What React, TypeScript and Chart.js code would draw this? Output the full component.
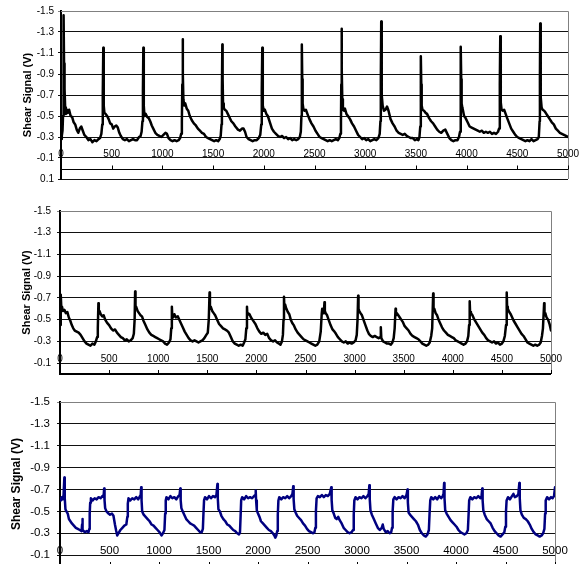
import React, { useEffect, useRef } from "react";
import { Chart, registerables } from "chart.js";

Chart.register(...registerables);

const yAxisTitle = "Shear Signal (V)";
const xTickValues = [0, 500, 1000, 1500, 2000, 2500, 3000, 3500, 4000, 4500, 5000];
const yTicksTop = [-1.5, -1.3, -1.1, -0.9, -0.7, -0.5, -0.3, -0.1, 0.1];
const yTicksLower = [-1.5, -1.3, -1.1, -0.9, -0.7, -0.5, -0.3, -0.1];

// Panel 1 (top): sharp spikes
const shearTrace1: [number, number][] = [
  [0,-0.28],[8,-0.31],[15,-0.36],[20,-0.5],[24,-0.9],[27,-1.46],[30,-1.0],[33,-0.72],[37,-0.76],[41,-0.58],[48,-0.52],[58,-0.56],[68,-0.53],[80,-0.56],[95,-0.5],[110,-0.49],[125,-0.44],[140,-0.42],[155,-0.37],[170,-0.34],[185,-0.38],[200,-0.40],[215,-0.36],[230,-0.32],[250,-0.30],[270,-0.27],[290,-0.28],[310,-0.25],[330,-0.27],[350,-0.26],[370,-0.28],[385,-0.29],[398,-0.33],[407,-0.42],[412,-0.7],[417,-1.15],
  [420,-0.85],[423,-0.6],[428,-0.53],[440,-0.52],[455,-0.5],[470,-0.47],[485,-0.43],[500,-0.42],[515,-0.38],[530,-0.40],[545,-0.41],[560,-0.39],[575,-0.34],[590,-0.31],[610,-0.28],[630,-0.27],[650,-0.28],[670,-0.26],[690,-0.27],[710,-0.28],[730,-0.27],[750,-0.27],[770,-0.3],[785,-0.31],[795,-0.35],[803,-0.45],[808,-0.75],[812,-1.15],
  [815,-0.82],[818,-0.6],[823,-0.5],[835,-0.52],[850,-0.49],[865,-0.48],[880,-0.45],[895,-0.41],[910,-0.38],[930,-0.34],[950,-0.32],[970,-0.31],[990,-0.3],[1010,-0.32],[1030,-0.34],[1045,-0.33],[1060,-0.29],[1080,-0.27],[1100,-0.26],[1120,-0.27],[1140,-0.26],[1160,-0.27],[1175,-0.29],[1185,-0.33],[1192,-0.45],[1196,-0.8],[1200,-1.23],
  [1203,-0.9],[1207,-0.66],[1215,-0.6],[1225,-0.62],[1240,-0.57],[1255,-0.55],[1270,-0.5],[1290,-0.46],[1310,-0.43],[1330,-0.41],[1350,-0.38],[1370,-0.36],[1390,-0.34],[1410,-0.33],[1430,-0.3],[1450,-0.29],[1470,-0.28],[1490,-0.27],[1510,-0.26],[1530,-0.27],[1550,-0.26],[1565,-0.28],[1575,-0.31],[1583,-0.42],[1587,-0.75],[1591,-1.18],
  [1594,-0.85],[1598,-0.62],[1605,-0.58],[1615,-0.56],[1630,-0.55],[1645,-0.52],[1660,-0.49],[1680,-0.45],[1700,-0.43],[1720,-0.4],[1745,-0.37],[1765,-0.36],[1785,-0.38],[1800,-0.38],[1815,-0.35],[1830,-0.3],[1850,-0.28],[1870,-0.27],[1890,-0.26],[1910,-0.27],[1930,-0.27],[1950,-0.29],[1965,-0.32],[1975,-0.42],[1980,-0.75],[1985,-1.15],
  [1988,-0.82],[1992,-0.6],[2000,-0.55],[2010,-0.56],[2025,-0.52],[2040,-0.5],[2060,-0.44],[2080,-0.38],[2100,-0.35],[2120,-0.33],[2140,-0.31],[2160,-0.3],[2180,-0.31],[2200,-0.29],[2220,-0.3],[2240,-0.28],[2260,-0.29],[2280,-0.27],[2300,-0.28],[2320,-0.27],[2340,-0.28],[2355,-0.3],[2365,-0.35],[2371,-0.5],[2374,-0.8],[2376,-1.18],
  [2379,-0.85],[2383,-0.62],[2390,-0.57],[2400,-0.55],[2415,-0.56],[2430,-0.52],[2450,-0.47],[2470,-0.43],[2490,-0.4],[2510,-0.36],[2530,-0.33],[2550,-0.3],[2570,-0.29],[2590,-0.28],[2610,-0.27],[2630,-0.26],[2650,-0.27],[2670,-0.26],[2690,-0.27],[2710,-0.28],[2730,-0.27],[2745,-0.29],[2755,-0.33],[2761,-0.45],[2764,-0.8],[2767,-1.33],
  [2770,-0.95],[2774,-0.66],[2780,-0.56],[2790,-0.55],[2800,-0.57],[2815,-0.52],[2830,-0.5],[2850,-0.47],[2870,-0.43],[2890,-0.4],[2910,-0.36],[2930,-0.32],[2950,-0.3],[2970,-0.28],[2990,-0.29],[3010,-0.27],[3030,-0.28],[3050,-0.26],[3070,-0.27],[3090,-0.28],[3110,-0.27],[3130,-0.29],[3143,-0.33],[3150,-0.45],[3154,-0.85],[3158,-1.40],
  [3161,-1.0],[3165,-0.7],[3172,-0.6],[3185,-0.55],[3200,-0.56],[3215,-0.59],[3230,-0.55],[3250,-0.47],[3270,-0.43],[3290,-0.4],[3310,-0.36],[3330,-0.34],[3350,-0.33],[3370,-0.32],[3390,-0.33],[3410,-0.31],[3430,-0.3],[3450,-0.29],[3470,-0.29],[3490,-0.27],[3510,-0.28],[3525,-0.27],[3535,-0.3],[3543,-0.4],[3547,-0.7],[3550,-1.07],
  [3553,-0.8],[3557,-0.6],[3565,-0.56],[3580,-0.55],[3595,-0.53],[3610,-0.52],[3630,-0.48],[3650,-0.45],[3670,-0.43],[3690,-0.4],[3710,-0.37],[3730,-0.35],[3750,-0.34],[3770,-0.36],[3790,-0.37],[3810,-0.33],[3830,-0.29],[3850,-0.27],[3870,-0.26],[3890,-0.27],[3910,-0.27],[3925,-0.3],[3935,-0.35],[3940,-0.55],[3944,-1.16],
  [3947,-0.85],[3951,-0.62],[3958,-0.58],[3965,-0.55],[3975,-0.5],[3990,-0.48],[4010,-0.44],[4030,-0.4],[4050,-0.39],[4070,-0.38],[4090,-0.37],[4110,-0.36],[4130,-0.35],[4150,-0.36],[4170,-0.34],[4190,-0.35],[4210,-0.34],[4230,-0.35],[4250,-0.33],[4270,-0.34],[4290,-0.33],[4310,-0.35],[4320,-0.38],[4326,-0.5],[4329,-0.8],[4332,-1.26],
  [4335,-0.9],[4339,-0.63],[4345,-0.56],[4355,-0.55],[4370,-0.56],[4385,-0.52],[4400,-0.48],[4420,-0.43],[4440,-0.38],[4460,-0.35],[4480,-0.32],[4500,-0.3],[4520,-0.29],[4540,-0.28],[4560,-0.27],[4580,-0.26],[4600,-0.27],[4620,-0.26],[4640,-0.28],[4660,-0.26],[4680,-0.27],[4700,-0.28],[4712,-0.3],[4720,-0.45],[4723,-0.85],[4726,-1.38],
  [4729,-1.0],[4733,-0.68],[4740,-0.58],[4750,-0.56],[4765,-0.55],[4780,-0.53],[4800,-0.5],[4820,-0.47],[4840,-0.44],[4860,-0.42],[4880,-0.38],[4900,-0.36],[4920,-0.34],[4940,-0.33],[4960,-0.32],[4980,-0.31],[5000,-0.3],
];

// Panel 2 (middle): small spikes
const shearTrace2: [number, number][] = [
  [0,-0.45],[5,-0.55],[10,-0.73],[14,-0.6],[20,-0.62],[30,-0.58],[45,-0.59],[60,-0.56],[75,-0.57],[90,-0.52],[105,-0.49],[120,-0.45],[135,-0.42],[150,-0.4],[170,-0.39],[190,-0.38],[210,-0.36],[230,-0.33],[250,-0.3],[270,-0.28],[290,-0.27],[310,-0.26],[330,-0.28],[350,-0.27],[365,-0.3],[378,-0.34],[385,-0.42],[391,-0.65],
  [395,-0.56],[402,-0.58],[415,-0.55],[430,-0.53],[445,-0.54],[460,-0.5],[480,-0.47],[500,-0.45],[520,-0.42],[540,-0.4],[560,-0.41],[580,-0.38],[600,-0.36],[620,-0.34],[640,-0.33],[660,-0.31],[680,-0.32],[700,-0.3],[720,-0.31],[740,-0.33],[752,-0.37],[760,-0.5],[765,-0.76],
  [769,-0.6],[775,-0.62],[790,-0.58],[805,-0.56],[820,-0.54],[835,-0.53],[850,-0.49],[870,-0.45],[890,-0.41],[910,-0.38],[930,-0.36],[950,-0.35],[970,-0.34],[990,-0.33],[1010,-0.32],[1030,-0.31],[1050,-0.3],[1070,-0.28],[1090,-0.27],[1110,-0.29],[1125,-0.32],[1133,-0.42],[1139,-0.62],
  [1143,-0.54],[1150,-0.52],[1165,-0.55],[1180,-0.52],[1200,-0.53],[1215,-0.5],[1230,-0.47],[1250,-0.43],[1270,-0.39],[1290,-0.36],[1310,-0.33],[1330,-0.31],[1350,-0.3],[1370,-0.31],[1390,-0.3],[1410,-0.29],[1430,-0.3],[1450,-0.31],[1470,-0.33],[1490,-0.36],[1505,-0.38],[1515,-0.5],[1523,-0.75],
  [1527,-0.6],[1535,-0.62],[1550,-0.58],[1565,-0.56],[1580,-0.54],[1600,-0.5],[1620,-0.46],[1640,-0.44],[1660,-0.42],[1680,-0.41],[1700,-0.4],[1720,-0.38],[1740,-0.34],[1760,-0.3],[1780,-0.28],[1800,-0.27],[1820,-0.26],[1840,-0.27],[1860,-0.26],[1875,-0.29],[1888,-0.32],[1897,-0.42],[1904,-0.62],
  [1908,-0.54],[1915,-0.56],[1930,-0.55],[1945,-0.52],[1960,-0.5],[1975,-0.48],[1990,-0.46],[2010,-0.42],[2030,-0.39],[2050,-0.37],[2070,-0.38],[2090,-0.36],[2110,-0.37],[2130,-0.33],[2150,-0.31],[2170,-0.3],[2190,-0.31],[2210,-0.29],[2230,-0.28],[2245,-0.27],[2260,-0.3],[2270,-0.36],[2276,-0.5],[2281,-0.71],
  [2285,-0.6],[2292,-0.64],[2305,-0.6],[2320,-0.57],[2335,-0.55],[2350,-0.5],[2365,-0.47],[2380,-0.45],[2400,-0.41],[2420,-0.38],[2440,-0.36],[2460,-0.34],[2480,-0.32],[2500,-0.31],[2520,-0.3],[2540,-0.29],[2560,-0.28],[2580,-0.27],[2600,-0.26],[2620,-0.27],[2640,-0.3],[2655,-0.39],[2665,-0.55],[2670,-0.6],[2680,-0.56],[2688,-0.58],[2693,-0.66],
  [2697,-0.58],[2705,-0.56],[2720,-0.54],[2735,-0.5],[2755,-0.45],[2775,-0.41],[2795,-0.39],[2810,-0.37],[2830,-0.34],[2850,-0.32],[2870,-0.3],[2890,-0.29],[2910,-0.3],[2930,-0.28],[2950,-0.29],[2970,-0.28],[2990,-0.29],[3010,-0.31],[3022,-0.36],[3030,-0.5],[3036,-0.72],
  [3040,-0.6],[3048,-0.58],[3060,-0.56],[3075,-0.54],[3090,-0.5],[3110,-0.45],[3130,-0.4],[3145,-0.37],[3165,-0.35],[3185,-0.34],[3205,-0.35],[3225,-0.34],[3245,-0.33],[3262,-0.34],[3267,-0.43],[3272,-0.33],[3290,-0.3],[3310,-0.29],[3330,-0.28],[3350,-0.28],[3370,-0.27],[3385,-0.29],[3398,-0.33],[3408,-0.42],[3417,-0.6],
  [3421,-0.54],[3430,-0.56],[3445,-0.54],[3460,-0.52],[3475,-0.5],[3490,-0.48],[3510,-0.44],[3530,-0.42],[3550,-0.4],[3570,-0.37],[3590,-0.35],[3610,-0.34],[3630,-0.33],[3650,-0.32],[3670,-0.3],[3690,-0.28],[3710,-0.27],[3730,-0.26],[3750,-0.27],[3765,-0.29],[3780,-0.35],[3790,-0.42],[3800,-0.74],
  [3804,-0.6],[3812,-0.6],[3825,-0.56],[3840,-0.54],[3855,-0.5],[3870,-0.47],[3890,-0.43],[3910,-0.4],[3930,-0.38],[3950,-0.36],[3970,-0.35],[3990,-0.34],[4010,-0.33],[4030,-0.31],[4050,-0.3],[4070,-0.29],[4090,-0.28],[4110,-0.27],[4130,-0.28],[4145,-0.3],[4158,-0.35],[4166,-0.45],[4172,-0.67],
  [4176,-0.57],[4185,-0.56],[4200,-0.54],[4220,-0.5],[4240,-0.47],[4260,-0.44],[4280,-0.41],[4300,-0.38],[4320,-0.36],[4340,-0.33],[4360,-0.31],[4380,-0.3],[4400,-0.29],[4420,-0.3],[4440,-0.28],[4460,-0.29],[4480,-0.27],[4500,-0.28],[4515,-0.3],[4530,-0.35],[4542,-0.45],[4549,-0.75],
  [4553,-0.62],[4560,-0.6],[4575,-0.57],[4590,-0.55],[4605,-0.52],[4620,-0.49],[4640,-0.46],[4660,-0.43],[4680,-0.4],[4700,-0.37],[4720,-0.35],[4740,-0.32],[4760,-0.29],[4780,-0.28],[4800,-0.27],[4820,-0.26],[4840,-0.27],[4860,-0.26],[4880,-0.27],[4895,-0.29],[4908,-0.35],[4918,-0.42],[4930,-0.65],
  [4934,-0.54],[4942,-0.56],[4955,-0.52],[4970,-0.5],[4985,-0.46],[5000,-0.4],
];

// Panel 3 (bottom): square-ish wave
const shearTrace3: [number, number][] = [
  [0,-0.62],[8,-0.6],[18,-0.63],[28,-0.61],[36,-0.65],[44,-0.81],[48,-0.62],[55,-0.52],[65,-0.5],[78,-0.48],[90,-0.43],[105,-0.41],[120,-0.39],[140,-0.37],[160,-0.35],[180,-0.34],[200,-0.33],[218,-0.32],[223,-0.38],[226,-0.43],[230,-0.33],[250,-0.31],[270,-0.32],[288,-0.31],[296,-0.34],[300,-0.48],[305,-0.58],[312,-0.62],[330,-0.6],[350,-0.62],[370,-0.61],[390,-0.63],[410,-0.62],[428,-0.64],[440,-0.63],[446,-0.71],
  [450,-0.6],[456,-0.53],[470,-0.5],[490,-0.48],[505,-0.47],[525,-0.48],[540,-0.46],[555,-0.38],[568,-0.32],[578,-0.28],[590,-0.3],[610,-0.33],[630,-0.35],[650,-0.37],[670,-0.38],[680,-0.45],[685,-0.57],[692,-0.62],[710,-0.6],[730,-0.62],[750,-0.61],[770,-0.63],[790,-0.61],[808,-0.64],[815,-0.65],[820,-0.72],
  [824,-0.6],[830,-0.5],[845,-0.47],[865,-0.45],[885,-0.43],[905,-0.41],[925,-0.38],[945,-0.37],[965,-0.35],[985,-0.33],[1005,-0.31],[1025,-0.28],[1040,-0.3],[1055,-0.33],[1062,-0.48],[1068,-0.6],[1075,-0.63],[1095,-0.61],[1115,-0.64],[1135,-0.62],[1155,-0.63],[1175,-0.61],[1195,-0.64],[1208,-0.65],[1215,-0.71],
  [1219,-0.6],[1226,-0.53],[1240,-0.5],[1255,-0.47],[1275,-0.43],[1295,-0.41],[1315,-0.39],[1335,-0.38],[1355,-0.37],[1375,-0.35],[1395,-0.33],[1415,-0.31],[1432,-0.31],[1443,-0.34],[1449,-0.48],[1455,-0.6],[1465,-0.63],[1485,-0.61],[1505,-0.64],[1525,-0.62],[1545,-0.64],[1565,-0.63],[1580,-0.65],[1590,-0.75],
  [1594,-0.62],[1600,-0.52],[1615,-0.5],[1630,-0.46],[1650,-0.43],[1670,-0.41],[1690,-0.38],[1710,-0.37],[1730,-0.35],[1750,-0.33],[1770,-0.32],[1790,-0.3],[1808,-0.29],[1818,-0.31],[1824,-0.45],[1830,-0.6],[1840,-0.63],[1860,-0.61],[1880,-0.64],[1900,-0.62],[1920,-0.63],[1940,-0.62],[1960,-0.64],[1970,-0.65],[1977,-0.69],
  [1981,-0.6],[1988,-0.51],[2000,-0.48],[2015,-0.45],[2030,-0.41],[2050,-0.39],[2070,-0.37],[2090,-0.35],[2110,-0.33],[2130,-0.32],[2150,-0.3],[2165,-0.28],[2175,-0.26],[2185,-0.28],[2194,-0.32],[2200,-0.47],[2206,-0.6],[2215,-0.63],[2235,-0.61],[2255,-0.63],[2275,-0.62],[2295,-0.64],[2315,-0.62],[2335,-0.64],[2348,-0.66],[2356,-0.73],
  [2360,-0.61],[2367,-0.52],[2380,-0.49],[2395,-0.46],[2415,-0.44],[2435,-0.42],[2455,-0.39],[2475,-0.37],[2495,-0.34],[2515,-0.32],[2535,-0.31],[2555,-0.3],[2570,-0.31],[2579,-0.35],[2585,-0.5],[2592,-0.62],[2605,-0.64],[2625,-0.63],[2645,-0.65],[2665,-0.63],[2685,-0.65],[2705,-0.64],[2725,-0.66],[2740,-0.72],
  [2744,-0.6],[2751,-0.51],[2765,-0.48],[2780,-0.44],[2795,-0.43],[2810,-0.45],[2825,-0.42],[2845,-0.39],[2865,-0.35],[2885,-0.33],[2905,-0.31],[2925,-0.3],[2945,-0.31],[2960,-0.33],[2967,-0.47],[2973,-0.6],[2985,-0.63],[3005,-0.61],[3025,-0.63],[3045,-0.62],[3065,-0.64],[3085,-0.62],[3105,-0.64],[3118,-0.66],[3125,-0.74],
  [3129,-0.61],[3136,-0.51],[3150,-0.47],[3170,-0.43],[3190,-0.39],[3210,-0.35],[3230,-0.33],[3250,-0.35],[3260,-0.38],[3270,-0.34],[3290,-0.31],[3310,-0.32],[3330,-0.3],[3345,-0.31],[3354,-0.35],[3360,-0.5],[3367,-0.61],[3380,-0.63],[3400,-0.61],[3420,-0.63],[3440,-0.62],[3460,-0.64],[3480,-0.62],[3500,-0.65],[3510,-0.7],
  [3514,-0.58],[3521,-0.49],[3535,-0.47],[3555,-0.45],[3575,-0.43],[3595,-0.41],[3615,-0.38],[3635,-0.33],[3655,-0.3],[3675,-0.28],[3695,-0.27],[3712,-0.29],[3726,-0.33],[3733,-0.48],[3740,-0.6],[3750,-0.63],[3770,-0.61],[3790,-0.63],[3810,-0.61],[3830,-0.64],[3850,-0.62],[3865,-0.64],[3874,-0.66],[3880,-0.76],
  [3884,-0.62],[3891,-0.51],[3905,-0.48],[3925,-0.45],[3945,-0.42],[3965,-0.4],[3985,-0.38],[4005,-0.36],[4025,-0.33],[4045,-0.31],[4065,-0.3],[4085,-0.29],[4105,-0.3],[4120,-0.33],[4127,-0.47],[4133,-0.6],[4145,-0.63],[4165,-0.61],[4185,-0.63],[4205,-0.62],[4225,-0.64],[4245,-0.62],[4258,-0.64],[4265,-0.71],
  [4269,-0.6],[4276,-0.51],[4290,-0.47],[4310,-0.43],[4330,-0.41],[4350,-0.39],[4370,-0.35],[4390,-0.32],[4410,-0.3],[4430,-0.28],[4450,-0.27],[4470,-0.29],[4488,-0.31],[4498,-0.36],[4505,-0.5],[4511,-0.6],[4525,-0.63],[4545,-0.61],[4565,-0.64],[4580,-0.66],[4595,-0.63],[4615,-0.64],[4630,-0.66],[4640,-0.76],
  [4644,-0.62],[4651,-0.51],[4665,-0.47],[4685,-0.44],[4705,-0.43],[4725,-0.41],[4745,-0.38],[4765,-0.34],[4785,-0.31],[4805,-0.29],[4825,-0.28],[4845,-0.27],[4865,-0.28],[4880,-0.3],[4893,-0.34],[4900,-0.48],[4906,-0.6],[4920,-0.63],[4940,-0.61],[4960,-0.63],[4975,-0.62],[4990,-0.64],[5000,-0.72],
];

type PanelProps = {
  top: number;
  height: number;
  padTop: number;
  padBottom: number;
  padRight: number;
  axisLeft: number;
  yMax: number;
  yTicks: number[];
  points: [number, number][];
  color: string;
  lineWidth: number;
  tickFont: number;
  tickPad: number;
  titleFont: number;
  titleCenter: number;
  axisLineWidth: number;
};

const FONT = '"Liberation Sans", Arial, sans-serif';

function Panel(p: PanelProps) {
  const ref = useRef<HTMLCanvasElement | null>(null);
  useEffect(() => {
    if (!ref.current) return;
    const xAxisPlugin = {
      id: "xAxisAtZero",
      afterDatasetsDraw(chart: any) {
        const { ctx, chartArea, scales } = chart;
        const xs = scales.x;
        const ys = scales.y;
        ctx.save();
        ctx.strokeStyle = "#808080";
        ctx.lineWidth = 1;
        ctx.beginPath();
        const rx = Math.round(chartArea.right) + 0.5;
        ctx.moveTo(chartArea.left, Math.round(chartArea.top) + 0.5);
        ctx.lineTo(rx, Math.round(chartArea.top) + 0.5);
        ctx.lineTo(rx, chartArea.bottom);
        ctx.stroke();
        const y0 = ys.getPixelForValue(0);
        const y0a = p.axisLineWidth % 2 === 1 ? Math.round(y0) + 0.5 : Math.round(y0);
        ctx.strokeStyle = "#000";
        ctx.lineWidth = p.axisLineWidth;
        ctx.beginPath();
        ctx.moveTo(chartArea.left, y0a);
        ctx.lineTo(chartArea.right, y0a);
        ctx.stroke();
        ctx.lineWidth = 1;
        ctx.beginPath();
        for (const v of xTickValues) {
          const px = Math.round(xs.getPixelForValue(v)) + 0.5;
          ctx.moveTo(px, y0a);
          ctx.lineTo(px, y0a - 4);
        }
        ctx.stroke();
        const base = ys.getPixelForValue(-0.1) - 1.5;
        ctx.fillStyle = "#000";
        ctx.font = `${p.tickFont}px ${FONT}`;
        ctx.textAlign = "center";
        ctx.textBaseline = "alphabetic";
        for (const v of xTickValues) {
          ctx.fillText(String(v), xs.getPixelForValue(v), base);
        }
        ctx.restore();
      },
    };

    const chart = new Chart(ref.current, {
      type: "line",
      data: {
        datasets: [
          {
            data: p.points.map(([x, y]) => ({ x, y })),
            borderColor: p.color,
            borderWidth: p.lineWidth,
            borderJoinStyle: "round",
            borderCapStyle: "round",
            pointRadius: 0,
            tension: 0,
            fill: false,
          },
        ],
      },
      options: {
        animation: false,
        responsive: false,
        maintainAspectRatio: false,
        devicePixelRatio: 1,
        layout: { padding: { top: p.padTop, bottom: p.padBottom, left: 0, right: p.padRight } },
        plugins: { legend: { display: false }, tooltip: { enabled: false } },
        scales: {
          x: { type: "linear", min: 0, max: 5000, display: false },
          y: {
            type: "linear",
            reverse: true,
            min: -1.5,
            max: p.yMax,
            afterBuildTicks: (s: any) => {
              s.ticks = p.yTicks.map((v) => ({ value: v }));
            },
            afterFit: (s: any) => {
              s.width = p.axisLeft;
            },
            ticks: {
              autoSkip: false,
              color: "#000",
              padding: p.tickPad,
              font: { family: FONT, size: p.tickFont },
              callback: (v: any) => Number(v).toFixed(1),
            },
            grid: {
              color: (c: any) => (c.index === 0 ? "#808080" : "#111"),
              lineWidth: 1,
              tickLength: 3,
              drawTicks: true,
            },
            border: { display: true, color: "#000", width: 2 },
            title: {
              display: true,
              text: yAxisTitle,
              color: "#000",
              font: { family: FONT, size: p.titleFont, weight: "bold" },
              padding: { top: p.titleCenter - (p.titleFont * 1.2) / 2, bottom: 0 },
            },
          },
        },
      },
      plugins: [xAxisPlugin],
    } as any);
    return () => chart.destroy();
  }, []);
  return (
    <canvas
      ref={ref}
      width={583}
      height={p.height}
      style={{ position: "absolute", left: 0, top: p.top, width: 583, height: p.height }}
    />
  );
}

export default function App() {
  return (
    <div
      style={{
        position: "absolute",
        left: 0,
        top: 0,
        width: 583,
        height: 564,
        overflow: "hidden",
        background: "#fff",
      }}
    >
      <Panel top={0} height={190} padTop={11} padBottom={11} padRight={15} axisLeft={61}
        yMax={0.1} yTicks={yTicksTop} points={shearTrace1} color="#000" lineWidth={2.5}
        tickFont={10} tickPad={4} titleFont={11} titleCenter={27.5} axisLineWidth={1} />
      <Panel top={190} height={196} padTop={21} padBottom={6} padRight={32} axisLeft={60}
        yMax={0} yTicks={yTicksLower} points={shearTrace2} color="#000" lineWidth={2.5}
        tickFont={10} tickPad={6} titleFont={11} titleCenter={27} axisLineWidth={2} />
      <Panel top={380} height={200} padTop={22} padBottom={12} padRight={28} axisLeft={60}
        yMax={0} yTicks={yTicksLower} points={shearTrace3} color="#000080" lineWidth={2.5}
        tickFont={11.5} tickPad={7} titleFont={12} titleCenter={17} axisLineWidth={2} />
    </div>
  );
}
